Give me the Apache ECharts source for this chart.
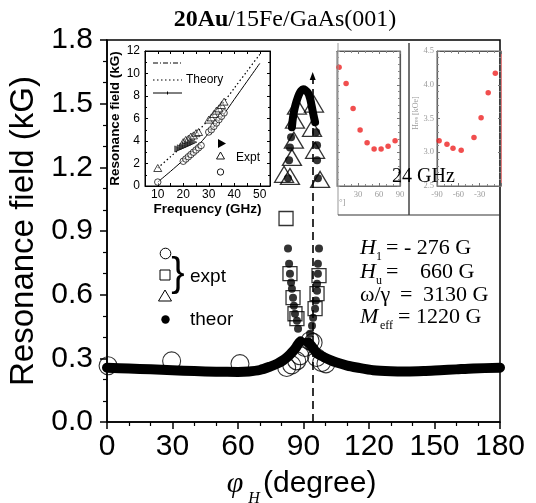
<!DOCTYPE html>
<html>
<head>
<meta charset="utf-8">
<script src="https://cdn.jsdelivr.net/npm/echarts@6/dist/echarts.min.js"></script>
<style>
html, body { margin: 0; padding: 0; background: #fff; }
#chart { width: 536px; height: 503px; }
</style>
</head>
<body>
<div id="chart"></div>
<script>
// ---------- main panel: resonance field vs in-plane field angle ----------
const phiTickValues = [0, 30, 60, 90, 120, 150, 180];
const fieldTickValues = [0.0, 0.3, 0.6, 0.9, 1.2, 1.5, 1.8];

// low-field theoretical branch (thick curve), both sides of the hard axis
const theoryLowLeftPhi = [0, 10, 20, 30, 40, 50, 60, 65, 70, 75, 78, 80.7, 83, 84.6, 86.5, 87.6, 88.7];
const theoryLowLeftH = [0.256, 0.252, 0.248, 0.244, 0.240, 0.237, 0.236, 0.238, 0.245, 0.262, 0.275, 0.291, 0.310, 0.327, 0.350, 0.368, 0.380];
const theoryLowRightPhi = [92.1, 93.5, 95.3, 97, 99.1, 102, 105.2, 110, 114.4, 121.9, 130, 137.3, 145, 152.5, 160, 167.7, 180];
const theoryLowRightH = [0.376, 0.360, 0.335, 0.318, 0.307, 0.293, 0.280, 0.266, 0.257, 0.244, 0.239, 0.238, 0.240, 0.244, 0.248, 0.252, 0.256];

// high-field theoretical branch: dense top of the arch
const theoryArchPhi = [84.7, 85.2, 86.0, 87.0, 88.0, 89.0, 89.8, 90.7, 92.1, 93.0, 93.5, 94.4, 95.3];
const theoryArchH = [1.389, 1.436, 1.480, 1.517, 1.545, 1.562, 1.568, 1.565, 1.550, 1.525, 1.502, 1.455, 1.413];

// individual theoretical points (arch legs and the two low-field columns)
const theoryDotPhi = [84.3, 83.8, 83.4, 82.9, 95.8, 96.2, 96.2, 96.6,
  82.9, 83.4, 83.8, 84.3, 84.7, 85.2, 85.6, 86.1, 87.0, 87.5,
  97.1, 96.6, 96.6, 96.2, 96.2, 95.7, 95.3, 94.4, 93.9, 93.0];
const theoryDotH = [1.342, 1.294, 1.233, 1.148, 1.365, 1.304, 1.233, 1.148,
  0.817, 0.746, 0.699, 0.657, 0.628, 0.586, 0.548, 0.510, 0.477, 0.439,
  0.817, 0.746, 0.699, 0.652, 0.619, 0.572, 0.534, 0.491, 0.454, 0.416];

// measured resonances
const exptTrianglePhi = [87.0, 86.1, 85.6, 84.7, 81.1, 83.8, 94.8, 93.9, 95.3, 97.6];
const exptTriangleH = [1.488, 1.422, 1.328, 1.247, 1.167, 1.157, 1.498, 1.384, 1.280, 1.143];
const exptSquarePhi = [82.0, 83.8, 85.2, 86.1, 87.0, 97.1, 96.2, 95.3];
const exptSquareH = [0.959, 0.699, 0.586, 0.510, 0.487, 0.690, 0.605, 0.534];
const exptCirclePhi = [0.5, 29.6, 60.9, 82.3, 84.6, 86.9, 88.4, 90.7, 93.0, 94.4, 96.0, 98.3, 100.3];
const exptCircleH = [0.265, 0.288, 0.275, 0.257, 0.269, 0.288, 0.312, 0.351, 0.383, 0.375, 0.304, 0.280, 0.274];

// hard-axis direction marker
const hardAxisPhi = 94.2;
const hardAxisArrowH = 1.63;

// ---------- inset: resonance field vs microwave frequency ----------
const insetFreqTicks = [10, 20, 30, 40, 50];
const insetFreqMinorTicks = [5, 10, 15, 20, 25, 30, 35, 40, 45, 50];
const insetTheorySolidF = [10, 15, 20, 25, 30, 35, 40, 45, 50];
const insetTheorySolidH = [0.35, 1.3, 2.3, 3.4, 4.7, 6.1, 7.7, 9.3, 10.9];
const insetTheoryDottedF = [10, 15, 20, 25, 30, 35, 40, 45, 50];
const insetTheoryDottedH = [1.6, 2.6, 3.6, 4.7, 5.9, 7.2, 8.7, 10.2, 11.7];
const insetCircleF = [10, 20, 21, 22, 23, 24, 25, 26, 27, 30, 31, 32, 33, 34, 35, 36];
const insetCircleH = [0.35, 2.2, 2.4, 2.6, 2.8, 3.0, 3.2, 3.4, 3.6, 4.8, 5.0, 5.3, 5.6, 5.9, 6.2, 6.5];
const insetTriangleF = [10, 20, 21, 22, 23, 24, 25, 26, 30, 31, 32, 33, 34, 35, 36];
const insetTriangleH = [1.6, 3.9, 4.1, 4.2, 4.4, 4.5, 4.7, 4.8, 5.9, 6.1, 6.4, 6.7, 6.9, 7.2, 7.5];
const insetFilledF = [18, 19, 20, 21, 22, 23, 24];
const insetFilledH = [3.3, 3.4, 3.5, 3.6, 3.7, 3.8, 3.9];

// ---------- 24 GHz angular scans (two panels) ----------
const scanLeftTicks = [30, 60, 90];
const scanRightTicks = [-90, -60, -30];
const scanFieldTicks = [2.5, 3.0, 3.5, 4.0, 4.5];
const scanLeftPhi = [3, 13, 23, 33, 43, 53, 63, 73, 83];
const scanLeftH = [4.26, 4.02, 3.65, 3.33, 3.14, 3.05, 3.05, 3.09, 3.17];
const scanRightPhi = [-87, -76, -67.5, -56, -38, -28, -18, -8];
const scanRightH = [3.17, 3.12, 3.06, 3.03, 3.22, 3.51, 3.88, 4.17];

const zip = (xs, ys) => xs.map((x, i) => [x, ys[i]]);

const SANS = 'Liberation Sans';
const SERIF = 'Liberation Serif';
const GREY = '#8c8c8c';

const hollow = { color: 'rgba(0,0,0,0)', borderColor: '#000', borderWidth: 1.3 };

function frameAxis(gridIndex, min, max, opts) {
  return Object.assign({
    type: 'value', gridIndex, min, max,
    axisLine: { show: true, onZero: false, lineStyle: { color: '#000', width: 1 } },
    axisTick: { show: true, inside: true, length: 3, lineStyle: { color: '#000', width: 1 } },
    axisLabel: { show: false },
    splitLine: { show: false }
  }, opts || {});
}

const chart = echarts.init(document.getElementById('chart'), null, { renderer: 'canvas' });

const option = {
  animation: false,
  backgroundColor: '#fff',
  grid: [
    { left: 107, top: 40, width: 393, height: 382, show: true, borderColor: '#000', borderWidth: 1.5, containLabel: false, outerBoundsMode: 'none' },
    { left: 145, top: 51, width: 125, height: 135, show: true, borderColor: '#000', borderWidth: 1, containLabel: false, outerBoundsMode: 'none' },
    { left: 337, top: 51, width: 63, height: 135, show: true, borderColor: '#666', borderWidth: 1, containLabel: false, outerBoundsMode: 'none' },
    { left: 437, top: 51, width: 64, height: 135, show: true, borderColor: '#666', borderWidth: 1, containLabel: false, outerBoundsMode: 'none' }
  ],
  xAxis: [
    {
      type: 'value', gridIndex: 0, min: phiTickValues[0], max: phiTickValues[phiTickValues.length - 1], interval: 30,
      axisLine: { show: true, onZero: false, lineStyle: { color: '#000', width: 1.5 } },
      axisTick: { show: true, inside: false, length: 7, lineStyle: { color: '#000', width: 1.5 } },
      minorTick: { show: true, splitNumber: 3, length: 4, lineStyle: { color: '#000', width: 1.2 } },
      axisLabel: { show: true, margin: 10, fontFamily: SANS, fontSize: 30, color: '#000', showMinLabel: true, showMaxLabel: true },
      splitLine: { show: false }
    },
    frameAxis(1, 5, 54, {
      axisTick: { show: true, inside: true, length: 3, customValues: insetFreqMinorTicks, lineStyle: { color: '#000' } },
      axisLabel: { show: true, customValues: insetFreqTicks, margin: 3, fontFamily: SANS, fontSize: 12, color: '#000' },
      name: 'Frequency (GHz)', nameLocation: 'middle', nameGap: 15,
      nameTextStyle: { fontFamily: SANS, fontSize: 13.5, fontWeight: 'bold', color: '#000' }
    }),
    frameAxis(1, 5, 54, { position: 'top',
      axisTick: { show: true, inside: true, length: 3, customValues: insetFreqMinorTicks, lineStyle: { color: '#000' } } }),
    frameAxis(2, 0, 90, {
      interval: 30,
      axisLine: { show: true, onZero: false, lineStyle: { color: '#666', width: 1 } },
      axisTick: { show: true, inside: true, length: 3, lineStyle: { color: '#777' } },
      minorTick: { show: true, splitNumber: 3, length: 2, lineStyle: { color: '#888' } },
      axisLabel: { show: true, customValues: scanLeftTicks, margin: 4, fontFamily: SERIF, fontSize: 8.5, color: '#9a9a9a' }
    }),
    frameAxis(2, 0, 90, { position: 'top', interval: 30,
      axisLine: { show: true, onZero: false, lineStyle: { color: '#555', width: 1.2 } },
      axisTick: { show: true, inside: true, length: 3, lineStyle: { color: '#777' } },
      minorTick: { show: true, splitNumber: 3, length: 2, lineStyle: { color: '#888' } } }),
    frameAxis(3, -90, 0, {
      interval: 30,
      axisLine: { show: true, onZero: false, lineStyle: { color: '#666', width: 1 } },
      axisTick: { show: true, inside: true, length: 3, lineStyle: { color: '#777' } },
      minorTick: { show: true, splitNumber: 3, length: 2, lineStyle: { color: '#888' } },
      axisLabel: { show: true, customValues: scanRightTicks, margin: 4, fontFamily: SERIF, fontSize: 8.5, color: '#9a9a9a' }
    }),
    frameAxis(3, -90, 0, { position: 'top', interval: 30,
      axisLine: { show: true, onZero: false, lineStyle: { color: '#555', width: 1.2 } },
      axisTick: { show: true, inside: true, length: 3, lineStyle: { color: '#777' } },
      minorTick: { show: true, splitNumber: 3, length: 2, lineStyle: { color: '#888' } } })
  ],
  yAxis: [
    {
      type: 'value', gridIndex: 0, min: fieldTickValues[0], max: fieldTickValues[fieldTickValues.length - 1], interval: 0.3,
      axisLine: { show: true, onZero: false, lineStyle: { color: '#000', width: 1.5 } },
      axisTick: { show: true, inside: false, length: 7, lineStyle: { color: '#000', width: 1.5 } },
      minorTick: { show: true, splitNumber: 3, length: 4, lineStyle: { color: '#000', width: 1.2 } },
      axisLabel: { show: true, margin: 14, fontFamily: SANS, fontSize: 30, color: '#000',
        showMinLabel: true, showMaxLabel: true, formatter: v => v.toFixed(1) },
      splitLine: { show: false },
      name: 'Resonance field (kG)', nameLocation: 'middle', nameGap: 62,
      nameTextStyle: { fontFamily: SANS, fontSize: 33, color: '#000' }
    },
    frameAxis(1, 0, 12, {
      interval: 2,
      minorTick: { show: true, splitNumber: 2, length: 2, lineStyle: { color: '#000' } },
      axisLabel: { show: true, margin: 5, fontFamily: SANS, fontSize: 12, color: '#000' },
      name: 'Resonance field (kG)', nameLocation: 'middle', nameGap: 20,
      nameTextStyle: { fontFamily: SANS, fontSize: 13.5, fontWeight: 'bold', color: '#000' }
    }),
    frameAxis(1, 0, 12, { position: 'right', interval: 2,
      minorTick: { show: true, splitNumber: 2, length: 2, lineStyle: { color: '#000' } } }),
    frameAxis(2, 2.5, 4.5, { interval: 0.5,
      axisLine: { show: true, onZero: false, lineStyle: { color: '#888', width: 1 } },
      axisTick: { show: true, inside: true, length: 3, lineStyle: { color: '#888' } },
      minorTick: { show: true, splitNumber: 5, length: 2, lineStyle: { color: '#999' } } }),
    frameAxis(2, 2.5, 4.5, { position: 'right', interval: 0.5,
      axisLine: { show: true, onZero: false, lineStyle: { color: '#555', width: 1.2 } },
      axisTick: { show: true, inside: true, length: 3, lineStyle: { color: '#777' } },
      minorTick: { show: true, splitNumber: 5, length: 2, lineStyle: { color: '#888' } } }),
    frameAxis(3, 2.5, 4.5, { interval: 0.5,
      axisLine: { show: true, onZero: false, lineStyle: { color: '#666', width: 1.2 } },
      axisTick: { show: true, inside: true, length: 3, lineStyle: { color: '#777' } },
      minorTick: { show: true, splitNumber: 5, length: 2, lineStyle: { color: '#888' } },
      axisLabel: { show: true, margin: 3, fontFamily: SERIF, fontSize: 8.5, color: '#9a9a9a', formatter: v => v.toFixed(1) } }),
    frameAxis(3, 2.5, 4.5, { position: 'right', interval: 0.5,
      axisLine: { show: true, onZero: false, lineStyle: { color: '#e58080', width: 1 } },
      axisTick: { show: true, inside: true, length: 3, lineStyle: { color: '#777' } },
      minorTick: { show: true, splitNumber: 5, length: 2, lineStyle: { color: '#888' } } })
  ],
  series: [
    // main panel
    { type: 'line', xAxisIndex: 0, yAxisIndex: 0, data: zip(theoryLowLeftPhi, theoryLowLeftH), smooth: 0.3,
      showSymbol: false, lineStyle: { color: '#000', width: 10, cap: 'round', join: 'round' }, z: 2 },
    { type: 'line', xAxisIndex: 0, yAxisIndex: 0, data: zip(theoryLowRightPhi, theoryLowRightH), smooth: 0.3,
      showSymbol: false, lineStyle: { color: '#000', width: 10, cap: 'round', join: 'round' }, z: 2 },
    { type: 'line', xAxisIndex: 0, yAxisIndex: 0, data: zip(theoryArchPhi, theoryArchH), smooth: 0.4,
      showSymbol: false, lineStyle: { color: '#000', width: 8, cap: 'round', join: 'round' }, z: 2 },
    { type: 'scatter', xAxisIndex: 0, yAxisIndex: 0, data: zip(theoryDotPhi, theoryDotH),
      symbol: 'circle', symbolSize: 8, itemStyle: { color: '#000' }, z: 3 },
    { type: 'scatter', xAxisIndex: 0, yAxisIndex: 0, data: zip(exptTrianglePhi, exptTriangleH),
      symbol: 'triangle', symbolSize: [19, 16], itemStyle: hollow, z: 4 },
    { type: 'scatter', xAxisIndex: 0, yAxisIndex: 0, data: zip(exptSquarePhi, exptSquareH),
      symbol: 'rect', symbolSize: 14, itemStyle: hollow, z: 4 },
    { type: 'scatter', xAxisIndex: 0, yAxisIndex: 0, data: zip(exptCirclePhi, exptCircleH),
      symbol: 'circle', symbolSize: 18, itemStyle: { color: 'rgba(0,0,0,0)', borderColor: '#000', borderWidth: 1.1 }, z: 4,
      markLine: {
        silent: true, animation: false,
        symbol: ['none', 'triangle'], symbolSize: [6, 8],
        lineStyle: { color: '#000', width: 1.6, type: [8, 5] },
        label: { show: false },
        emphasis: { disabled: true },
        data: [[{ coord: [hardAxisPhi, 0] }, { coord: [hardAxisPhi, hardAxisArrowH] }]]
      }
    },
    // frequency inset
    { type: 'line', xAxisIndex: 1, yAxisIndex: 1, data: zip(insetTheorySolidF, insetTheorySolidH), smooth: 0.3,
      showSymbol: false, lineStyle: { color: '#000', width: 1 }, z: 5 },
    { type: 'line', xAxisIndex: 1, yAxisIndex: 1, data: zip(insetTheoryDottedF, insetTheoryDottedH), smooth: 0.3,
      showSymbol: false, lineStyle: { color: '#000', width: 1.2, type: [1.5, 2.5] }, z: 5 },
    { type: 'scatter', xAxisIndex: 1, yAxisIndex: 1, data: zip(insetCircleF, insetCircleH),
      symbol: 'circle', symbolSize: 6.5, itemStyle: { color: 'rgba(255,255,255,0.6)', borderColor: '#000', borderWidth: 0.9 }, z: 6 },
    { type: 'scatter', xAxisIndex: 1, yAxisIndex: 1, data: zip(insetTriangleF, insetTriangleH),
      symbol: 'triangle', symbolSize: [8, 7], itemStyle: { color: 'rgba(255,255,255,0.6)', borderColor: '#000', borderWidth: 0.9 }, z: 6 },
    { type: 'scatter', xAxisIndex: 1, yAxisIndex: 1, data: zip(insetFilledF, insetFilledH),
      symbol: 'triangle', symbolRotate: -90, symbolSize: [6, 7], itemStyle: { color: '#444', borderColor: '#000', borderWidth: 0.6 }, z: 6 },
    // 24 GHz angular scans
    { type: 'scatter', xAxisIndex: 3, yAxisIndex: 3, data: zip(scanLeftPhi, scanLeftH),
      symbol: 'circle', symbolSize: 5.5, itemStyle: { color: '#ee2222' }, z: 6 },
    { type: 'scatter', xAxisIndex: 5, yAxisIndex: 5, data: zip(scanRightPhi, scanRightH),
      symbol: 'circle', symbolSize: 5.5, itemStyle: { color: '#ee2222' }, z: 6 }
  ],
  graphic: [
    // title
    { type: 'text', left: null, x: 285, y: 20, z: 100,
      style: { text: '{b|20Au}{r|/15Fe/GaAs(001)}', align: 'center', verticalAlign: 'middle',
        rich: { b: { fontFamily: SERIF, fontSize: 24, fontWeight: 'bold', fill: '#000' },
                r: { fontFamily: SERIF, fontSize: 24, fill: '#000' } } } },
    // x-axis title: phi_H (degree)
    { type: 'text', x: 235, y: 484, z: 100,
      style: { text: 'φ', fontFamily: SERIF, fontStyle: 'italic', fontSize: 30, fill: '#000', align: 'center', verticalAlign: 'middle' } },
    { type: 'text', x: 254, y: 499, z: 100,
      style: { text: 'H', fontFamily: SERIF, fontStyle: 'italic', fontSize: 16, fill: '#000', align: 'center', verticalAlign: 'middle' } },
    { type: 'text', x: 263, y: 484, z: 100,
      style: { text: '(degree)', fontFamily: SANS, fontSize: 30, fill: '#000', align: 'left', verticalAlign: 'middle' } },
    // main legend
    { type: 'circle', z: 100, shape: { cx: 165.5, cy: 253.5, r: 5.3 }, style: { fill: 'none', stroke: '#000', lineWidth: 1 } },
    { type: 'rect', z: 100, shape: { x: 160, y: 270, width: 10, height: 10 }, style: { fill: 'none', stroke: '#000', lineWidth: 1 } },
    { type: 'polygon', z: 100, shape: { points: [[165, 290], [171.5, 301], [158.5, 301]] }, style: { fill: 'none', stroke: '#000', lineWidth: 1 } },
    { type: 'circle', z: 100, shape: { cx: 165.5, cy: 319.5, r: 4.2 }, style: { fill: '#000' } },
    { type: 'text', x: 178, y: 275, z: 100,
      style: { text: '}', fontFamily: SANS, fontSize: 40, fill: '#000', align: 'center', verticalAlign: 'middle' } },
    { type: 'text', x: 190, y: 277, z: 100,
      style: { text: 'expt', fontFamily: SANS, fontSize: 19, fill: '#000', align: 'left', verticalAlign: 'middle' } },
    { type: 'text', x: 190, y: 320, z: 100,
      style: { text: 'theor', fontFamily: SANS, fontSize: 19, fill: '#000', align: 'left', verticalAlign: 'middle' } },
    // fit parameters
    { type: 'text', x: 360, y: 248, z: 100, style: { text: 'H', fontFamily: SERIF, fontStyle: 'italic', fontSize: 22, fill: '#000', verticalAlign: 'middle' } },
    { type: 'text', x: 376, y: 257, z: 100, style: { text: '1', fontFamily: SERIF, fontSize: 12, fill: '#000', verticalAlign: 'middle' } },
    { type: 'text', x: 386, y: 248, z: 100, style: { text: '= - 276 G', fontFamily: SERIF, fontSize: 22, fill: '#000', verticalAlign: 'middle' } },
    { type: 'text', x: 360, y: 272, z: 100, style: { text: 'H', fontFamily: SERIF, fontStyle: 'italic', fontSize: 22, fill: '#000', verticalAlign: 'middle' } },
    { type: 'text', x: 376, y: 281, z: 100, style: { text: 'u', fontFamily: SERIF, fontSize: 12, fill: '#000', verticalAlign: 'middle' } },
    { type: 'text', x: 386, y: 272, z: 100, style: { text: '=', fontFamily: SERIF, fontSize: 22, fill: '#000', verticalAlign: 'middle' } },
    { type: 'text', x: 420, y: 272, z: 100, style: { text: '660 G', fontFamily: SERIF, fontSize: 22, fill: '#000', verticalAlign: 'middle' } },
    { type: 'text', x: 360, y: 295, z: 100, style: { text: 'ω/γ', fontFamily: SERIF, fontSize: 22, fill: '#000', verticalAlign: 'middle' } },
    { type: 'text', x: 400, y: 295, z: 100, style: { text: '=', fontFamily: SERIF, fontSize: 22, fill: '#000', verticalAlign: 'middle' } },
    { type: 'text', x: 423, y: 295, z: 100, style: { text: '3130 G', fontFamily: SERIF, fontSize: 22, fill: '#000', verticalAlign: 'middle' } },
    { type: 'text', x: 360, y: 317, z: 100, style: { text: 'M', fontFamily: SERIF, fontStyle: 'italic', fontSize: 22, fill: '#000', verticalAlign: 'middle' } },
    { type: 'text', x: 380, y: 326, z: 100, style: { text: 'eff', fontFamily: SERIF, fontSize: 12, fill: '#000', verticalAlign: 'middle' } },
    { type: 'text', x: 398, y: 317, z: 100, style: { text: '= 1220 G', fontFamily: SERIF, fontSize: 22, fill: '#000', verticalAlign: 'middle' } },
    // inset legend
    { type: 'line', z: 100, shape: { x1: 153, y1: 63, x2: 182, y2: 63 }, style: { stroke: '#000', lineWidth: 1, lineDash: [5, 2, 1, 2] } },
    { type: 'line', z: 100, shape: { x1: 153, y1: 80, x2: 182, y2: 80 }, style: { stroke: '#000', lineWidth: 1.2, lineDash: [1.5, 2.5] } },
    { type: 'line', z: 100, shape: { x1: 153, y1: 93, x2: 182, y2: 93 }, style: { stroke: '#000', lineWidth: 1 } },
    { type: 'line', z: 100, shape: { x1: 167.5, y1: 91.5, x2: 167.5, y2: 94.5 }, style: { stroke: '#000', lineWidth: 1 } },
    { type: 'text', x: 186, y: 80, z: 100, style: { text: 'Theory', fontFamily: SANS, fontSize: 12, fill: '#000', verticalAlign: 'middle' } },
    { type: 'polygon', z: 100, shape: { points: [[218, 139], [226, 143.5], [218, 148]] }, style: { fill: '#000' } },
    { type: 'polygon', z: 100, shape: { points: [[220.5, 152], [224.5, 159], [216.5, 159]] }, style: { fill: 'none', stroke: '#000', lineWidth: 0.9 } },
    { type: 'circle', z: 100, shape: { cx: 220.5, cy: 172, r: 3.2 }, style: { fill: 'none', stroke: '#000', lineWidth: 0.9 } },
    { type: 'text', x: 236, y: 158, z: 100, style: { text: 'Expt', fontFamily: SANS, fontSize: 12, fill: '#000', verticalAlign: 'middle' } },
    // 24 GHz scan panels: surrounding frame and labels
    { type: 'line', z: 90, shape: { x1: 338, y1: 43, x2: 338, y2: 215 }, style: { stroke: '#999', lineWidth: 1 } },
    { type: 'line', z: 90, shape: { x1: 338, y1: 215, x2: 500, y2: 215 }, style: { stroke: '#333', lineWidth: 1.2 } },
    { type: 'line', z: 90, shape: { x1: 409, y1: 43, x2: 409, y2: 215 }, style: { stroke: '#444', lineWidth: 1.5 } },
    { type: 'text', x: 339, y: 203, z: 100, style: { text: '°]', fontFamily: SERIF, fontSize: 9, fill: '#9a9a9a', verticalAlign: 'middle' } },
    { type: 'text', x: 416, y: 113, z: 100, rotation: Math.PI / 2,
      style: { text: 'H{s|res} [kOe]', fontFamily: SERIF, fontSize: 8, fill: '#9a9a9a', align: 'center', verticalAlign: 'middle',
        rich: { s: { fontFamily: SERIF, fontSize: 6, fill: '#9a9a9a' } } } },
    { type: 'text', x: 392, y: 177, z: 100, style: { text: '24 GHz', fontFamily: SERIF, fontSize: 20, fill: '#000', verticalAlign: 'middle' } }
  ]
};

chart.setOption(option);
</script>
</body>
</html>
